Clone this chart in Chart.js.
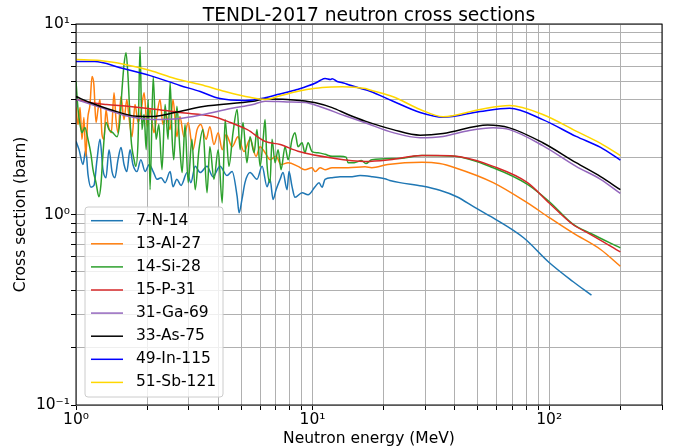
<!DOCTYPE html>
<html>
<head>
<meta charset="utf-8">
<script src="https://cdn.jsdelivr.net/npm/chart.js@4.4.1/dist/chart.umd.min.js"></script>
<style>
  html, body { margin: 0; padding: 0; background: #fff; }
  canvas { display: block; }
</style>
</head>
<body>
<canvas id="xs" width="678" height="448"></canvas>
<script>
// [energy (MeV), cross section (barn)]
const n14 = [[1.00,2.42],[1.03,2.19],[1.07,1.83],[1.10,2.19],[1.124,1.62],[1.157,1.39],[1.191,1.42],[1.227,1.94],
  [1.263,2.48],[1.30,1.72],[1.339,1.56],[1.379,2.19],[1.42,1.68],[1.46,1.56],[1.505,1.94],[1.55,2.25],[1.596,1.83],
  [1.64,1.68],[1.692,2.19],[1.74,1.83],[1.81,1.68],[1.88,1.94],[1.96,1.68],[2.04,1.83],[2.12,1.68],[2.20,1.53],
  [2.29,1.56],[2.38,1.47],[2.50,1.68],[2.57,1.40],[2.67,1.53],[2.78,1.42],[2.95,1.66],[3.06,1.47],[3.19,1.79],
  [3.35,1.66],[3.58,1.79],[3.79,1.58],[4.06,1.79],[4.35,1.60],[4.57,1.68],[4.80,1.24],[4.89,1.02],[5.03,1.20],
  [5.18,1.47],[5.44,1.66],[5.82,1.53],[6.12,1.79],[6.42,1.40],[6.61,1.53],[6.81,1.20],[7.01,1.35],[7.29,1.53],
  [7.50,1.66],[7.80,1.35],[7.95,1.68],[8.19,1.40],[8.43,1.23],[9.03,1.30],[9.57,1.27],[10.25,1.40],[10.65,1.47],
  [10.97,1.39],[11.29,1.53],[12.09,1.56],[13.07,1.58],[14.41,1.58],[15.88,1.60],[17.8,1.58],[20.2,1.54],[21.2,1.51],
  [23.4,1.47],[29.0,1.41],[34.5,1.34],[40.7,1.24],[48.5,1.09],[58,0.96],[78,0.755],[100,0.56],[126,0.445],[151,0.377]];

const al27 = [[1.00,3.65],[1.02,2.97],[1.04,3.65],[1.06,2.48],[1.08,3.23],[1.10,2.02],[1.12,3.15],[1.146,3.78],
  [1.169,5.30],[1.19,4.81],[1.215,3.04],[1.239,3.56],[1.263,4.02],[1.288,2.63],[1.313,2.48],[1.339,3.56],[1.366,2.97],
  [1.41,2.69],[1.448,4.36],[1.476,3.15],[1.505,2.69],[1.55,4.16],[1.596,3.15],[1.64,4.02],[1.675,3.23],[1.725,2.56],
  [1.776,3.78],[1.83,3.04],[1.88,3.41],[1.94,4.36],[2.0,2.89],[2.056,3.56],[2.137,2.69],[2.20,3.35],[2.266,4.02],
  [2.33,2.97],[2.40,3.35],[2.50,2.79],[2.57,4.02],[2.67,2.56],[2.75,3.27],[2.86,2.56],[2.98,3.04],[3.12,2.19],
  [3.25,2.79],[3.37,2.97],[3.55,2.48],[3.68,2.89],[3.83,2.33],[3.99,2.69],[4.15,2.19],[4.31,2.63],[4.57,2.27],
  [4.84,2.56],[5.13,2.14],[5.44,2.48],[5.77,2.02],[6.0,2.27],[6.30,2.11],[6.61,1.94],[7.01,2.02],[7.36,1.83],
  [7.88,1.87],[8.68,1.79],[9.28,1.72],[9.95,1.76],[10.25,1.68],[10.76,1.76],[11.29,1.72],[12.09,1.76],[14.13,1.76],
  [16.67,1.78],[17.8,1.76],[20.8,1.83],[29,1.88],[34.5,1.85],[40,1.76],[58,1.47],[81,1.15],[100,0.964],[126,0.80],
  [165,0.655],[200,0.535]];

const si28 = [[1.00,4.99],[1.02,3.56],[1.04,2.97],[1.06,2.69],[1.09,2.86],[1.124,2.48],[1.157,2.07],[1.18,1.72],
  [1.215,1.47],[1.25,1.24],[1.275,1.44],[1.30,2.07],[1.339,3.04],[1.379,2.79],[1.43,2.69],[1.49,2.56],[1.535,3.15],
  [1.565,4.53],[1.596,6.13],[1.627,7.07],[1.66,5.24],[1.71,2.48],[1.76,1.94],[1.79,1.79],[1.83,2.48],[1.865,7.62],
  [1.90,2.79],[1.94,3.35],[1.98,2.19],[2.02,4.02],[2.056,1.35],[2.12,5.30],[2.18,2.48],[2.24,2.97],[2.31,1.72],
  [2.38,3.78],[2.45,2.48],[2.50,4.93],[2.55,2.48],[2.59,1.94],[2.67,3.70],[2.75,2.19],[2.81,1.66],[2.89,2.97],
  [2.98,1.47],[3.09,2.48],[3.19,1.35],[3.31,2.19],[3.44,2.79],[3.58,1.30],[3.68,2.27],[3.83,1.53],[3.99,2.19],
  [4.15,1.15],[4.27,3.15],[4.43,1.79],[4.61,2.69],[4.80,3.56],[4.94,2.19],[5.08,3.04],[5.28,1.87],[5.44,2.56],
  [5.66,2.11],[5.82,2.79],[6.0,1.79],[6.18,2.48],[6.30,3.15],[6.42,1.83],[6.61,1.47],[6.74,2.48],[6.94,1.87],
  [7.15,2.19],[7.36,1.72],[7.65,2.27],[7.88,1.94],[8.19,2.48],[8.43,2.69],[8.68,2.27],[9.03,2.38],[9.28,2.11],
  [9.57,2.38],[9.95,2.14],[10.55,2.11],[11.29,2.07],[12.09,2.02],[13.07,2.02],[13.86,2.00],[14.13,1.87],[15.0,1.87],
  [16.1,1.92],[16.8,1.85],[17.8,1.94],[23.4,1.97],[29,2.04],[40,2.02],[58,1.76],[81,1.44],[100,1.17],[126,0.89],
  [150,0.795],[200,0.668]];

const p31 = [[1.0,4.02],[1.146,3.87],[1.35,3.78],[1.69,3.69],[2.2,3.56],[2.75,3.43],[3.8,3.27],[4.5,3.04],[5.3,2.79],
  [6.3,2.42],[7.3,2.33],[8.68,2.15],[12.1,1.98],[16.7,1.90],[21.2,1.94],[29,2.04],[33.6,2.04],[42,2.01],[58,1.79],
  [81,1.47],[100,1.15],[126,0.886],[150,0.785],[200,0.637]];

const ga69 = [[1.0,4.02],[1.263,3.65],[1.61,3.31],[2.12,3.15],[2.75,3.19],[3.45,3.35],[4.5,3.6],[5.6,3.78],[6.3,3.93],
  [7.8,3.9],[9.3,3.87],[10.7,3.69],[13.7,3.3],[16.7,3.03],[21.9,2.69],[28.5,2.53],[35.6,2.57],[46,2.76],[58,2.85],
  [68,2.79],[94,2.3],[130,1.79],[165,1.53],[200,1.29]];

const as75 = [[1.0,4.16],[1.146,3.87],[1.39,3.56],[1.81,3.28],[2.12,3.27],[2.62,3.43],[3.45,3.69],[5.6,3.93],[6.3,4.04],
  [7.8,4.02],[8.85,3.97],[10.3,3.86],[12.1,3.64],[14.1,3.35],[16.7,3.09],[21.9,2.79],[28.5,2.61],[35.6,2.66],[55,2.95],
  [68,2.85],[94,2.38],[130,1.87],[165,1.58],[200,1.35]];

const in115 = [[1.0,6.35],[1.20,6.35],[1.535,5.9],[2.06,5.36],[2.75,4.76],[3.35,4.42],[4.06,4.06],[5.18,3.97],[6.3,4.1],
  [7.1,4.26],[8.6,4.53],[10.3,4.9],[10.76,5.05],[11.3,5.17],[11.9,5.11],[12.1,5.16],[12.7,4.99],[13.7,4.88],[14.1,4.81],
  [15.9,4.6],[17.5,4.44],[21.9,3.93],[28.5,3.43],[35.6,3.24],[51,3.47],[68,3.61],[94,3.15],[130,2.57],[165,2.25],[200,1.93]];

const sb121 = [[1.0,6.51],[1.263,6.43],[1.61,6.13],[2.06,5.7],[2.62,5.17],[3.35,4.81],[4.27,4.42],[5.44,4.12],[6.3,4.02],
  [7.3,4.2],[8.68,4.44],[10.3,4.6],[12.1,4.67],[13.4,4.69],[16.7,4.58],[17.5,4.5],[21.9,4.15],[28.5,3.56],[35.6,3.26],
  [51,3.56],[68,3.73],[94,3.35],[130,2.74],[165,2.36],[200,2.04]];

const labels = ['7-N-14', '13-Al-27', '14-Si-28', '15-P-31', '31-Ga-69', '33-As-75', '49-In-115', '51-Sb-121'];
const colors = ['#1f77b4', '#ff7f0e', '#2ca02c', '#d62728', '#9467bd', '#000000', '#0000ff', '#ffd700'];
const series = [n14, al27, si28, p31, ga69, as75, in115, sb121];

const xTicks = [1, 2, 3, 4, 5, 6, 7, 8, 9, 10, 20, 30, 40, 50, 60, 70, 80, 90, 100, 200, 300];
const yTicks = [0.1, 0.2, 0.3, 0.4, 0.5, 0.6, 0.7, 0.8, 0.9, 1, 2, 3, 4, 5, 6, 7, 8, 9, 10];
const xLabelAt = [1, 10, 100];
const xLabelText = ['10⁰', '10¹', '10²'];
const yLabelAt = [0.1, 1, 10];
const yLabelText = ['10⁻¹', '10⁰', '10¹'];

const FONT = 'DejaVu Sans';
const TITLE = 'TENDL-2017 neutron cross sections';

function labelFor(v, at, text) {
  const i = at.findIndex(a => Math.abs(a - v) / a < 1e-6);
  return i < 0 ? '' : text[i];
}

// title centred on the axes, box round the axes, legend inside lower left
const axesDecor = {
  id: 'axesDecor',
  afterDraw(chart) {
    const {ctx, chartArea: a} = chart;
    ctx.save();
    ctx.fillStyle = '#000';
    ctx.font = '18.7px "' + FONT + '"';
    ctx.textAlign = 'center';
    ctx.textBaseline = 'alphabetic';
    ctx.fillText(TITLE, (a.left + a.right) / 2, a.top - 3);

    ctx.strokeStyle = '#000';
    ctx.lineWidth = 1;
    ctx.strokeRect(a.left, a.top, a.right - a.left, a.bottom - a.top);

    const x0 = a.left + 9, y0 = a.bottom - 198, w = 138, h = 190;
    ctx.beginPath();
    ctx.roundRect(x0, y0, w, h, 3);
    ctx.fillStyle = 'rgba(255,255,255,0.8)';
    ctx.fill();
    ctx.strokeStyle = '#cccccc';
    ctx.stroke();

    ctx.font = '15.5px "' + FONT + '"';
    ctx.textBaseline = 'middle';
    ctx.textAlign = 'left';
    chart.data.datasets.forEach((ds, i) => {
      const y = y0 + 13.7 + i * 23.1;
      ctx.strokeStyle = ds.borderColor;
      ctx.lineWidth = 1.5;
      ctx.beginPath();
      ctx.moveTo(x0 + 6, y);
      ctx.lineTo(x0 + 38, y);
      ctx.stroke();
      ctx.fillStyle = '#000';
      ctx.fillText(ds.label, x0 + 51, y);
    });
    ctx.restore();
  }
};

new Chart(document.getElementById('xs'), {
  type: 'line',
  data: {
    datasets: series.map((s, i) => ({
      label: labels[i],
      data: s.map(p => ({x: p[0], y: p[1]})),
      borderColor: colors[i],
      borderWidth: 1.5,
      borderJoinStyle: 'round',
      pointRadius: 0,
      cubicInterpolationMode: 'monotone',
      fill: false,
      order: series.length - i
    }))
  },
  options: {
    responsive: false,
    animation: false,
    layout: { padding: { left: 0, right: 16, top: 24, bottom: 0 } },
    plugins: {
      legend: { display: false },
      tooltip: { enabled: false },
      title: { display: false }
    },
    scales: {
      x: {
        type: 'logarithmic',
        min: 1,
        max: 300,
        afterBuildTicks: axis => { axis.ticks = xTicks.map(v => ({value: v})); },
        afterFit: scale => { scale.height = 43; },
        ticks: {
          autoSkip: false,
          maxRotation: 0,
          padding: 1,
          color: '#000',
          font: { family: FONT, size: 15.5 },
          callback: v => labelFor(v, xLabelAt, xLabelText)
        },
        grid: { color: '#b0b0b0', lineWidth: 1, tickLength: 5, tickColor: '#000' },
        border: { display: false },
        title: {
          display: true,
          text: 'Neutron energy (MeV)',
          color: '#000',
          font: { family: FONT, size: 15.5 },
          padding: { top: 0, bottom: 0 }
        }
      },
      y: {
        type: 'logarithmic',
        min: 0.1,
        max: 10,
        afterBuildTicks: axis => { axis.ticks = yTicks.map(v => ({value: v})); },
        afterFit: scale => { scale.width = 76; },
        ticks: {
          autoSkip: false,
          padding: 1,
          color: '#000',
          font: { family: FONT, size: 15.5 },
          callback: v => labelFor(v, yLabelAt, yLabelText)
        },
        grid: { color: '#b0b0b0', lineWidth: 1, tickLength: 5, tickColor: '#000' },
        border: { display: false },
        title: {
          display: true,
          text: 'Cross section (barn)',
          color: '#000',
          font: { family: FONT, size: 15.5 },
          padding: { top: 12, bottom: 0 }
        }
      }
    }
  },
  plugins: [axesDecor]
});
</script>
</body>
</html>
